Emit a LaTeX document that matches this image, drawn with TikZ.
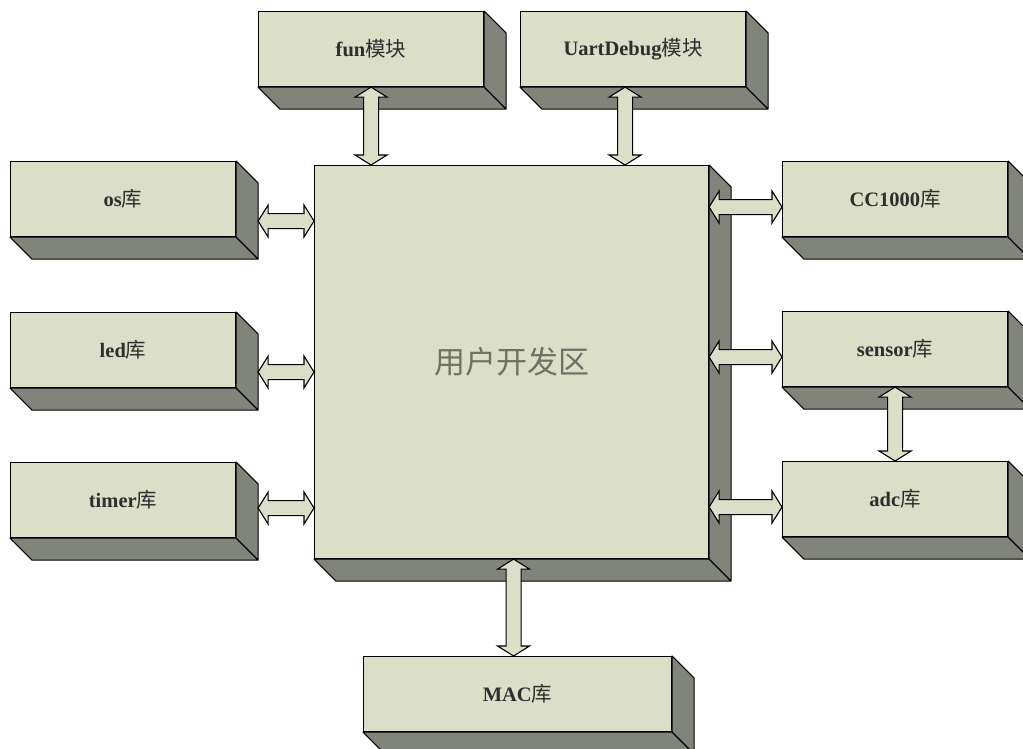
\documentclass[tikz,border=0pt]{standalone}
\usepackage{fontspec}
\setmainfont{Liberation Serif}
\newfontfamily\cjk{Noto Sans CJK SC}
\usetikzlibrary{calc}
\definecolor{face}{HTML}{DCDFC8}
\definecolor{sidec}{HTML}{81847A}
\definecolor{txt}{HTML}{2E2E2E}
\definecolor{maintxt}{HTML}{6E7266}
\newcommand\lbl[2]{{\bfseries #1}{\cjk #2}}
\newcommand\boxsides[1]{\draw[sidestyle] (#1.south west) -- (#1.south east) -- (#1.north east) -- ([shift={(22,22)}]#1.north east) -- ([shift={(22,22)}]#1.south east) -- ([shift={(22,22)}]#1.south west) -- cycle (#1.south east) -- ([shift={(22,22)}]#1.south east);}
\newcommand\dbl[2]{%
 \coordinate (dp) at ($(#1)!10pt!(#2)$);
 \coordinate (dq) at ($(#2)!10pt!(#1)$);
 \draw[arrowstyle] (#1) -- ($(dp)!16pt!90:(#2)$) -- ($(dp)!7.5pt!90:(#2)$) -- ($(dq)!7.5pt!-90:(#1)$) -- ($(dq)!16pt!-90:(#1)$) -- (#2) -- ($(dq)!16pt!90:(#1)$) -- ($(dq)!7.5pt!90:(#1)$) -- ($(dp)!7.5pt!-90:(#2)$) -- ($(dp)!16pt!-90:(#2)$) -- cycle;}
\tikzset{
  box/.style={draw=black, line width=1.1pt, fill=face, anchor=north west, inner sep=0pt,
    minimum width=225pt, minimum height=75pt, text=txt, font=\fontsize{20.5}{24}\selectfont},
  sidestyle/.style={draw=black, line width=1.1pt, fill=sidec, line join=round},
  arrowstyle/.style={draw=black, line width=1.1pt, fill=face, line join=miter},
}
\begin{document}
\begin{tikzpicture}[x=1pt,y=-1pt]
\useasboundingbox (0,0) rectangle (1023,749);
\clip (0,0) rectangle (1023,749);
% nodes
\node[box, minimum width=394pt, minimum height=393pt, text=maintxt, font=\fontsize{31}{35}\selectfont] (main) at (314,165) {\cjk 用户开发区};
\node[box] (fun) at (258,11) {\lbl{fun}{模块}};
\node[box] (uart) at (520,11) {\lbl{UartDebug}{模块}};
\node[box] (os) at (10,161) {\lbl{os}{库}};
\node[box] (led) at (10,312) {\lbl{led}{库}};
\node[box] (timer) at (10,462) {\lbl{timer}{库}};
\node[box] (cc) at (782,161) {\lbl{CC1000}{库}};
\node[box] (sensor) at (782,311) {\lbl{sensor}{库}};
\node[box] (adc) at (782,461) {\lbl{adc}{库}};
\node[box, minimum width=308pt] (mac) at (363,656) {\lbl{MAC}{库}};
% 3D sides
\foreach \n in {main,fun,uart,os,led,timer,cc,sensor,adc,mac} {\boxsides{\n}}
% connector coordinates
\coordinate (osA) at ([shift={(22,22)}]os.east);
\coordinate (osB) at (osA -| main.west);
\coordinate (ledA) at ([shift={(22,22)}]led.east);
\coordinate (ledB) at (ledA -| main.west);
\coordinate (timerA) at ([shift={(22,8)}]timer.east);
\coordinate (timerB) at (timerA -| main.west);
\coordinate (ccA) at ([yshift=-8pt]cc.west);
\coordinate (ccB) at (ccA -| main.east);
\coordinate (sensorA) at ([yshift=-8pt]sensor.west);
\coordinate (sensorB) at (sensorA -| main.east);
\coordinate (adcA) at ([yshift=-8pt]adc.west);
\coordinate (adcB) at (adcA -| main.east);
\coordinate (funA) at (fun.south);
\coordinate (funB) at (funA |- main.north);
\coordinate (uartA) at ([xshift=-8pt]uart.south);
\coordinate (uartB) at (uartA |- main.north);
\coordinate (macA) at ([xshift=-4pt]mac.north);
\coordinate (macB) at (macA |- main.south);
\coordinate (sA) at (sensor.south);
\coordinate (sB) at (sA |- adc.north);
% connectors
\dbl{osA}{osB}
\dbl{ledA}{ledB}
\dbl{timerA}{timerB}
\dbl{ccB}{ccA}
\dbl{sensorB}{sensorA}
\dbl{adcB}{adcA}
\dbl{funA}{funB}
\dbl{uartA}{uartB}
\dbl{macB}{macA}
\dbl{sA}{sB}
\end{tikzpicture}
\end{document}
